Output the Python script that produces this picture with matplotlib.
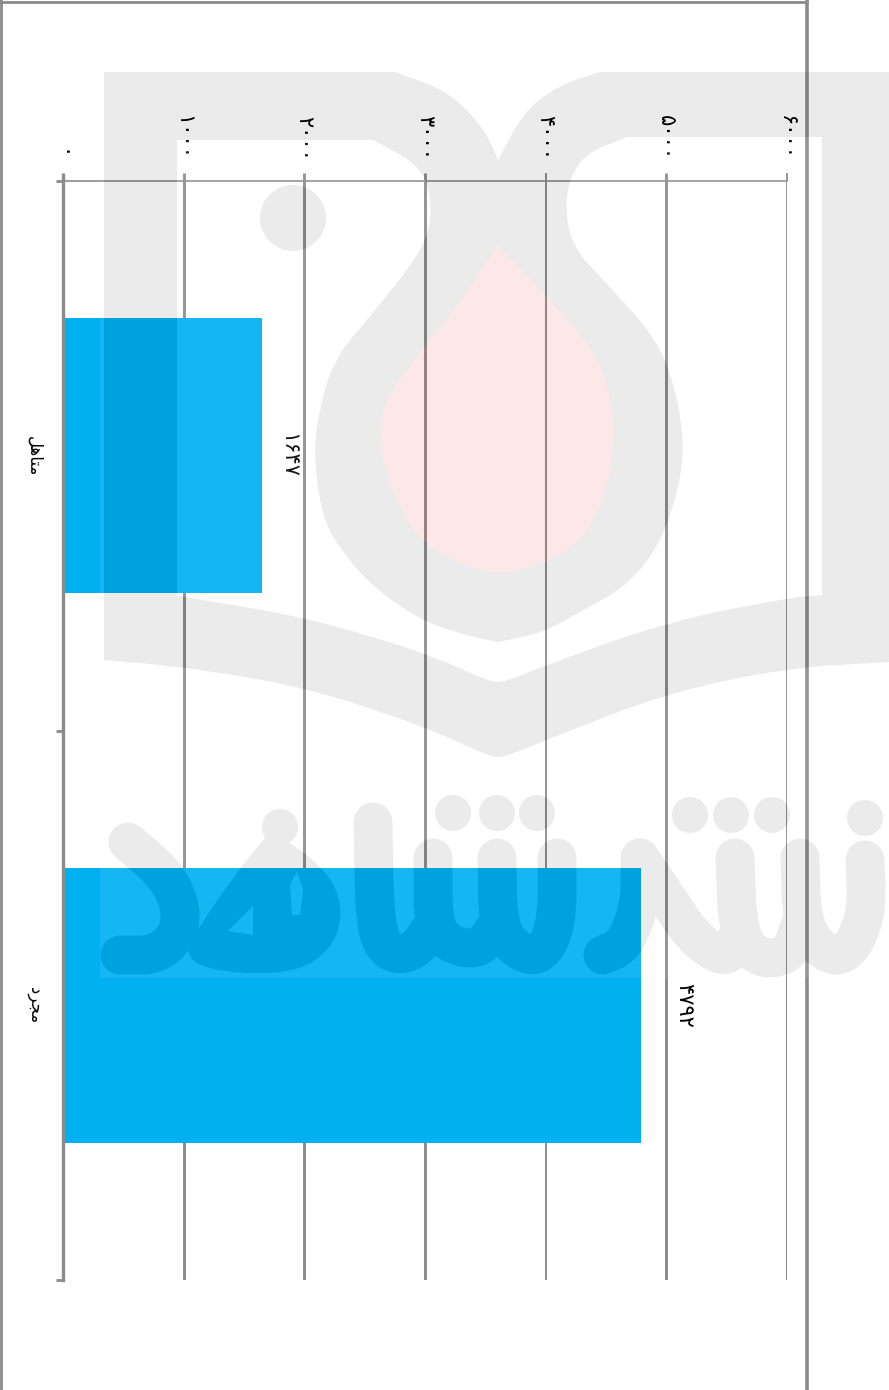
import numpy as np
import matplotlib
matplotlib.use('Agg')
import matplotlib.pyplot as plt
from matplotlib.lines import Line2D

W, H = 889, 1390
GRAY = '#8b8b8b'
BAR_COLOR = '#00b0f0'

# Data
# matplotlib does not shape Arabic, so these are presentation forms in visual order
categories = ['\uFEDE\uFEEB\uFE8E\uFE98\uFEE3', '\uFEA9\uFEAE\uFEA0\uFEE3']  # متاهل, مجرد
values = [1647, 4792]
value_ticks = [0, 1000, 2000, 3000, 4000, 5000, 6000]
grid_widths = [2.4, 2.1, 2.1, 2.1, 1.4, 2.1, 1.4]


def fa_digits(n):
    return str(n).translate(str.maketrans('0123456789', '۰۱۲۳۴۵۶۷۸۹'))


def chaikin(pts, n=3):
    # Smooth a polyline, the end points stay where they are
    pts = np.array(pts, dtype=float)
    for _ in range(n):
        q = 0.75 * pts[:-1] + 0.25 * pts[1:]
        r = 0.25 * pts[:-1] + 0.75 * pts[1:]
        mid = np.empty((len(q) * 2, 2))
        mid[0::2] = q
        mid[1::2] = r
        pts = np.vstack([pts[0], mid, pts[-1]])
    return pts


def build_watermark():
    # The logo is a flat layer over the chart: gray darkens, the rest lightens a bit
    mf = plt.figure(figsize=(W / 100, H / 100), dpi=100, facecolor='white')
    m = mf.add_axes([0, 0, 1, 1])
    m.set_xlim(0, W)
    m.set_ylim(H, 0)
    m.axis('off')

    # Book and frame
    top_notch = chaikin([(395, 72), (450, 92), (485, 130), (498, 160)], 3)
    top_notch2 = chaikin([(498, 160), (525, 110), (560, 85), (600, 72)], 3)
    lower = chaikin([(889, 662), (787, 668), (667, 693), (546, 740), (505, 757), (490, 757),
                     (426, 727), (305, 687), (184, 667), (104, 660)], 2)
    outer = np.vstack([[(104, 72)], top_notch, top_notch2, [(889, 72)], lower])
    m.fill(outer[:, 0], outer[:, 1], color='black', lw=0)

    # Open space around the drop
    drop_left = chaikin([(373, 140), (423, 167), (433, 210), (423, 250), (373, 313), (333, 360),
                         (317, 420), (314, 460), (323, 520), (343, 553), (373, 587), (423, 622),
                         (473, 637), (498, 642)], 3)
    drop_right = chaikin([(498, 642), (545, 632), (583, 610), (620, 590), (647, 563), (667, 527),
                          (683, 470), (682, 420), (667, 360), (643, 323), (603, 280), (573, 247),
                          (565, 210), (570, 177), (587, 153), (627, 137)], 3)
    book_edge = chaikin([(822, 595), (787, 598), (667, 622), (546, 665), (505, 682), (490, 682),
                         (426, 653), (305, 617), (184, 597), (177, 595)], 2)
    inner = np.vstack([[(177, 140)], drop_left, drop_right, [(822, 137)], book_edge])
    m.fill(inner[:, 0], inner[:, 1], color='white', lw=0)

    m.add_patch(plt.Circle((293, 218), 33, color='black', lw=0))

    # Pink drop
    pink = chaikin([(498, 245), (457, 307), (423, 347), (390, 393), (380, 420), (382, 463),
                    (400, 510), (423, 543), (457, 563), (498, 575), (547, 563), (587, 537),
                    (610, 480), (615, 420), (603, 367), (580, 333), (547, 297), (498, 245)], 3)
    m.fill(pink[:, 0], pink[:, 1], color='red', lw=0)

    # Logo lettering, round strokes
    strokes = [
        [(865, 860), (867, 915), (848, 955), (825, 955), (802, 925), (800, 858)],
        [(800, 925), (790, 955), (760, 960), (738, 935), (735, 858)],
        [(640, 858), (665, 895), (695, 940), (728, 960), (738, 935)],
        [(640, 858), (640, 905), (625, 945), (603, 955)],
        [(557, 858), (557, 925), (540, 958), (515, 950), (498, 925), (497, 858)],
        [(497, 925), (480, 950), (450, 945), (433, 925), (433, 858)],
        [(433, 925), (415, 952), (390, 955), (375, 930), (373, 822)],
        [(128, 842), (172, 880), (184, 925), (160, 955), (120, 955)],
    ]
    for s in strokes:
        p = chaikin(s, 3)
        m.plot(p[:, 0], p[:, 1], color='black', lw=28, solid_capstyle='round', solid_joinstyle='round')

    he = chaikin([(272, 830), (325, 868), (343, 905), (335, 945), (298, 973), (222, 973), (183, 958),
                  (200, 925), (240, 868), (272, 830)], 2)
    m.fill(he[:, 0], he[:, 1], color='black', lw=0)
    m.add_patch(plt.Circle((280, 827), 18, color='black', lw=0))
    m.fill([297, 303, 300, 292, 290], [872, 890, 915, 915, 885], color='white', lw=0)
    m.fill([253, 253, 228], [906, 935, 931], color='white', lw=0)

    for x, y in [(865, 818), (772, 815), (731, 815), (690, 815), (537, 813), (497, 813), (453, 813)]:
        m.add_patch(plt.Circle((x, y), 18, color='black', lw=0))

    mf.canvas.draw()
    buf = np.asarray(mf.canvas.buffer_rgba()).astype(float) / 255
    plt.close(mf)

    grey = 1 - buf[..., 0]
    red = buf[..., 0] - buf[..., 1]
    haze = 1 - grey - red
    region = np.zeros((H, W))
    region[72:978, 100:] = 1
    haze = haze * region

    a_grey, a_red, a_haze = grey * 0.08, red * 0.10, haze * 0.09
    alpha = a_grey + a_red + a_haze
    safe = np.where(alpha > 0, alpha, 1)
    rgba = np.zeros((H, W, 4))
    rgba[..., 0] = (a_red * 230 + a_haze * 255) / safe
    rgba[..., 1] = (a_red * 30 + a_haze * 255) / safe
    rgba[..., 2] = rgba[..., 1]
    rgba[..., 3] = alpha * 255
    return rgba.astype(np.uint8)


watermark = build_watermark()

fig = plt.figure(figsize=(W / 100, H / 100), dpi=100, facecolor='white')
ax = fig.add_axes([63 / W, 1 - 1280 / H, 724 / W, 1099 / H])
ax.set_facecolor('none')

# Outer frame, its bottom edge is cut off by the picture
for xs, ys in [((1, 1), (0, H)), ((0, 807), (2, 2)), ((807, 807), (0, H))]:
    fig.add_artist(Line2D([x / W for x in xs], [1 - y / H for y in ys], color=GRAY,
                          lw=2.6 if xs[0] == 807 else 2.0, transform=fig.transFigure))

y_pos = np.arange(len(categories))
ax.barh(y_pos, values, height=0.5, color=BAR_COLOR, zorder=3)

for v, w in zip(value_ticks[1:], grid_widths[1:]):
    ax.axvline(v, color=GRAY, lw=w, zorder=1)

ax.set_xlim(value_ticks[0], value_ticks[-1])
ax.set_ylim(len(categories) - 0.5, -0.5)

ax.xaxis.tick_top()
ax.set_xticks(value_ticks, [fa_digits(v) for v in value_ticks], rotation=-90, ha='center', va='bottom')
ax.tick_params(axis='x', length=5.8, color=GRAY, pad=9, labelsize=15, labelcolor='black')
for tick, w in zip(ax.xaxis.get_major_ticks(), grid_widths):
    tick.tick2line.set_markeredgewidth(w)

ax.set_yticks([-0.5, 0.5, 1.5], ['', '', ''])
ax.tick_params(axis='y', which='major', length=5, width=2.0, color=GRAY)
ax.set_yticks(y_pos, categories, minor=True, rotation=-90, va='center', ha='right')
ax.tick_params(axis='y', which='minor', length=0, pad=14, labelsize=12, labelcolor='black')

for name in ['right', 'bottom']:
    ax.spines[name].set_visible(False)
ax.spines['top'].set_color(GRAY)
ax.spines['top'].set_linewidth(1.2)
ax.spines['left'].set_color(GRAY)
ax.spines['left'].set_linewidth(grid_widths[0])
ax.spines['left'].set_zorder(4)

# Bar values, the second one sits further from its bar
for y, v, pad in zip(y_pos, values, [16, 33]):
    ax.annotate(fa_digits(v), (v, y), xytext=(pad, 0), textcoords='offset pixels', rotation=-90,
                ha='left', va='center', fontsize=15, color='black')

fig.figimage(watermark, 0, 0, origin='upper', zorder=5, resize=False)

fig.savefig('out.png', dpi=100)
